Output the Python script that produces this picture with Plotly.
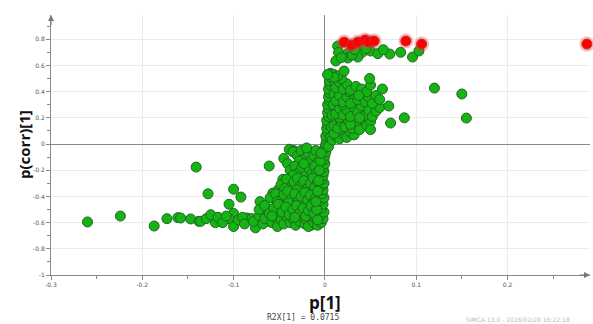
import plotly.graph_objects as go

# ---- data ----
green_x = [
    # left sparse tail
    -0.260, -0.224, -0.187, -0.173, -0.161, -0.147, -0.138, -0.141, -0.158, -0.128,
    -0.100, -0.092, -0.105, -0.071, -0.063, -0.057, -0.051, -0.046, -0.045, -0.039,
    -0.034, -0.041, -0.061, -0.100, -0.105, -0.100, -0.076, -0.120, -0.136, -0.085,
    -0.061, -0.015,
    # bottom row
    -0.130, -0.125, -0.117, -0.112, -0.108, -0.095, -0.090, -0.088, -0.080, -0.078,
    -0.072, -0.068, -0.066, -0.058, -0.055, -0.052, -0.048, -0.045, -0.042, -0.038,
    -0.035, -0.032, -0.028, -0.025, -0.022, -0.020, -0.018, -0.012, -0.010, -0.008,
    -0.005,
    # negative dense cluster
    -0.035, -0.030, -0.026, -0.022, -0.018, -0.015, -0.012, -0.010, -0.008, -0.028, -0.020,
    -0.038, -0.033, -0.029, -0.025, -0.021, -0.017, -0.014, -0.011, -0.009, -0.023, -0.035,
    -0.048, -0.042, -0.038, -0.034, -0.030, -0.027, -0.023, -0.019, -0.016, -0.013, -0.011,
    -0.008, -0.044, -0.031,
    -0.060, -0.054, -0.049, -0.045, -0.041, -0.037, -0.033, -0.029, -0.026, -0.022, -0.019,
    -0.016, -0.013, -0.010, -0.007, -0.040, -0.052,
    -0.072, -0.066, -0.061, -0.056, -0.051, -0.047, -0.043, -0.039, -0.035, -0.031, -0.028,
    -0.024, -0.021, -0.018, -0.015, -0.012, -0.009, -0.006, -0.058, -0.033,
    # central column
    -0.004, -0.002, -0.005, -0.001, -0.004, -0.002, -0.005, -0.001, -0.003, -0.002,
    -0.004, -0.001, -0.003, -0.002, -0.001, -0.002, 0.000, -0.001, 0.000, 0.001,
    0.000, 0.001, 0.002, 0.001, 0.003, 0.002, 0.003, 0.002, 0.004, 0.003,
    0.004, 0.003, 0.005, 0.004, 0.005, 0.004, 0.006, 0.005, 0.007, 0.006,
    -0.008, -0.009, -0.010, -0.008, -0.007, -0.006, -0.005, -0.004, 0.004, 0.006,
    0.007, 0.008, 0.009, 0.010, 0.011, 0.010,
    # positive dense cluster
    0.008, 0.012, 0.016, 0.020, 0.024, 0.028, 0.014, 0.010, 0.032,
    0.010, 0.014, 0.018, 0.022, 0.026, 0.030, 0.034, 0.038, 0.042, 0.046, 0.016, 0.028, 0.050,
    0.012, 0.016, 0.020, 0.024, 0.028, 0.032, 0.036, 0.040, 0.044, 0.048, 0.052, 0.056,
    0.020, 0.038, 0.060,
    0.012, 0.016, 0.020, 0.024, 0.028, 0.032, 0.036, 0.040, 0.044, 0.048, 0.052, 0.056,
    0.026, 0.060,
    0.012, 0.016, 0.020, 0.024, 0.028, 0.034, 0.040, 0.046, 0.050, 0.018, 0.014,
    0.049, 0.063, 0.070, 0.072, 0.087, 0.050, 0.037,
    # upper cluster
    0.014, 0.015, 0.025, 0.041, 0.050, 0.058, 0.071, 0.083, 0.096, 0.103,
    0.012, 0.025, 0.036, 0.021, 0.010, 0.003, 0.018, 0.030, 0.033, 0.045,
    0.064,
    # right sparse
    0.120, 0.150, 0.155,
]
green_y = [
    -0.595, -0.550, -0.626, -0.570, -0.562, -0.572, -0.590, -0.176, -0.565, -0.380,
    -0.345, -0.405, -0.460, -0.440, -0.500, -0.375, -0.350, -0.270, -0.110, -0.040,
    -0.050, -0.150, -0.168, -0.530, -0.570, -0.630, -0.640, -0.600, -0.590, -0.565,
    -0.590, -0.620,
    -0.57, -0.54, -0.56, -0.60, -0.55, -0.58, -0.56, -0.61, -0.57, -0.59,
    -0.55, -0.61, -0.57, -0.60, -0.56, -0.63, -0.58, -0.61, -0.55, -0.60,
    -0.57, -0.62, -0.59, -0.55, -0.61, -0.58, -0.63, -0.60, -0.57, -0.62,
    -0.59,
    -0.06, -0.09, -0.05, -0.11, -0.07, -0.13, -0.09, -0.05, -0.14, -0.13, -0.03,
    -0.20, -0.17, -0.22, -0.18, -0.24, -0.19, -0.23, -0.17, -0.22, -0.15, -0.24,
    -0.31, -0.27, -0.33, -0.29, -0.26, -0.32, -0.28, -0.34, -0.30, -0.26, -0.33,
    -0.29, -0.34, -0.35,
    -0.41, -0.38, -0.43, -0.39, -0.36, -0.42, -0.38, -0.44, -0.40, -0.37, -0.43,
    -0.39, -0.45, -0.41, -0.37, -0.45, -0.44,
    -0.50, -0.47, -0.53, -0.49, -0.46, -0.52, -0.48, -0.54, -0.50, -0.47, -0.53,
    -0.49, -0.55, -0.51, -0.47, -0.53, -0.49, -0.45, -0.55, -0.56,
    -0.60, -0.57, -0.54, -0.52, -0.49, -0.46, -0.43, -0.41, -0.38, -0.35,
    -0.32, -0.30, -0.27, -0.24, -0.21, -0.18, -0.15, -0.12, -0.09, -0.06,
    -0.03, 0.00, 0.03, 0.06, 0.09, 0.12, 0.15, 0.18, 0.21, 0.24,
    0.27, 0.30, 0.33, 0.36, 0.39, 0.42, 0.45, 0.48, 0.51, 0.54,
    -0.58, -0.50, -0.44, -0.36, -0.28, -0.20, -0.13, -0.07, -0.02, 0.05,
    0.13, 0.22, 0.30, 0.38, 0.46, 0.53,
    0.03, 0.06, 0.04, 0.08, 0.05, 0.09, 0.10, 0.08, 0.07,
    0.14, 0.12, 0.17, 0.13, 0.18, 0.12, 0.16, 0.11, 0.19, 0.14, 0.20, 0.15, 0.17,
    0.23, 0.27, 0.22, 0.26, 0.21, 0.28, 0.24, 0.29, 0.22, 0.26, 0.21, 0.25,
    0.30, 0.20, 0.28,
    0.33, 0.37, 0.32, 0.36, 0.31, 0.38, 0.34, 0.39, 0.32, 0.36, 0.31, 0.37,
    0.40, 0.34,
    0.43, 0.47, 0.42, 0.46, 0.41, 0.44, 0.42, 0.40, 0.45, 0.50, 0.52,
    0.50, 0.42, 0.29, 0.16, 0.20, 0.11, 0.37,
    0.748, 0.700, 0.690, 0.700, 0.710, 0.690, 0.687, 0.700, 0.664, 0.710,
    0.634, 0.657, 0.664, 0.557, 0.510, 0.530, 0.660, 0.680, 0.720, 0.730,
    0.720,
    0.427, 0.382, 0.198,
]
red_x = [0.021, 0.029, 0.036, 0.044, 0.048, 0.054, 0.0887, 0.106, 0.287]
red_y = [0.778, 0.755, 0.778, 0.794, 0.780, 0.786, 0.786, 0.763, 0.763]

x_tick_vals = [-0.3, -0.2, -0.1, 0, 0.1, 0.2]
x_tick_text = ["-0.3", "-0.2", "-0.1", "0", "0.1", "0.2"]
y_tick_vals = [-1, -0.8, -0.6, -0.4, -0.2, 0, 0.2, 0.4, 0.6, 0.8]
y_tick_text = ["-1", "-0.8", "-0.6", "-0.4", "-0.2", "0", "0.2", "0.4", "0.6", "0.8"]

X_MIN, X_MAX = -0.3, 0.2904
Y_MIN, Y_MAX = -1.0, 0.985

fig = go.Figure()
fig.add_trace(go.Scatter(
    x=green_x, y=green_y, mode="markers", cliponaxis=False,
    marker=dict(size=10, color="#14b414", line=dict(color="#226622", width=1)),
    hoverinfo="skip", showlegend=False))
fig.add_trace(go.Scatter(
    x=red_x, y=red_y, mode="markers", cliponaxis=False,
    marker=dict(size=15, color="rgba(230,60,60,0.35)", line=dict(width=0)),
    hoverinfo="skip", showlegend=False))
fig.add_trace(go.Scatter(
    x=red_x, y=red_y, mode="markers", cliponaxis=False,
    marker=dict(size=10, color="#ff0000", line=dict(color="#c03030", width=1)),
    hoverinfo="skip", showlegend=False))

tickfont = dict(family="DejaVu Sans", size=6, color="#555555")
fig.update_layout(
    width=593, height=324,
    margin=dict(l=51, r=3, t=15, b=49),
    plot_bgcolor="white", paper_bgcolor="white",
    xaxis=dict(range=[X_MIN, X_MAX], tickvals=x_tick_vals, ticktext=x_tick_text,
               showgrid=True, gridcolor="#ebebeb", gridwidth=1,
               zeroline=True, zerolinecolor="#8a8a8a", zerolinewidth=1,
               showline=True, linecolor="#8a8a8a", linewidth=1,
               ticks="outside", ticklen=4, tickcolor="#8a8a8a", tickfont=tickfont,
               minor=dict(dtick=0.05, tick0=0, ticks="outside", ticklen=3,
                          tickcolor="#8a8a8a", showgrid=False)),
    yaxis=dict(range=[Y_MIN, Y_MAX], tickvals=y_tick_vals, ticktext=y_tick_text,
               showgrid=True, gridcolor="#ebebeb", gridwidth=1,
               zeroline=True, zerolinecolor="#8a8a8a", zerolinewidth=1,
               showline=True, linecolor="#8a8a8a", linewidth=1,
               ticks="outside", ticklen=4, tickcolor="#8a8a8a", tickfont=tickfont,
               minor=dict(dtick=0.1, tick0=0, ticks="outside", ticklen=3,
                          tickcolor="#8a8a8a", showgrid=False)),
)

# axis arrows
fig.add_annotation(x=X_MIN, y=Y_MAX, xref="x", yref="y", ax=0, ay=12, showarrow=True,
                   arrowhead=2, arrowsize=1.2, arrowwidth=1, arrowcolor="#777777", text="")
fig.add_annotation(x=X_MAX, y=Y_MIN, xref="x", yref="y", ax=-12, ay=0, showarrow=True,
                   arrowhead=2, arrowsize=1.2, arrowwidth=1, arrowcolor="#777777", text="")

# titles
fig.add_annotation(text="<b>p(corr)[1]</b>", xref="paper", yref="paper", x=0, y=0.5,
                   xanchor="center", yanchor="middle", xshift=-27, textangle=-90,
                   showarrow=False, font=dict(family="Open Sans", size=15, color="#111111"))
fig.add_annotation(text="<b>p[1]</b>", xref="x", yref="paper", x=0, y=0,
                   xanchor="center", yanchor="middle", yshift=-27,
                   showarrow=False, font=dict(family="Open Sans", size=17, color="#111111"))
fig.add_annotation(text="R2X[1] = 0.0715", xref="x", yref="paper", x=-0.024, y=0,
                   xanchor="center", yanchor="middle", yshift=-42,
                   showarrow=False, font=dict(family="DejaVu Sans Mono", size=8, color="#444444"))
fig.add_annotation(text="SIMCA 13.0 - 2016/02/28 16:22:18", xref="x", yref="paper",
                   x=0.152, y=0, xanchor="left", yanchor="middle", yshift=-44,
                   showarrow=False, font=dict(family="DejaVu Sans", size=6, color="#bbbbbb"))

fig.write_html("out.html", config={"displayModeBar": False},
               post_script="document.body.style.margin='0';")
